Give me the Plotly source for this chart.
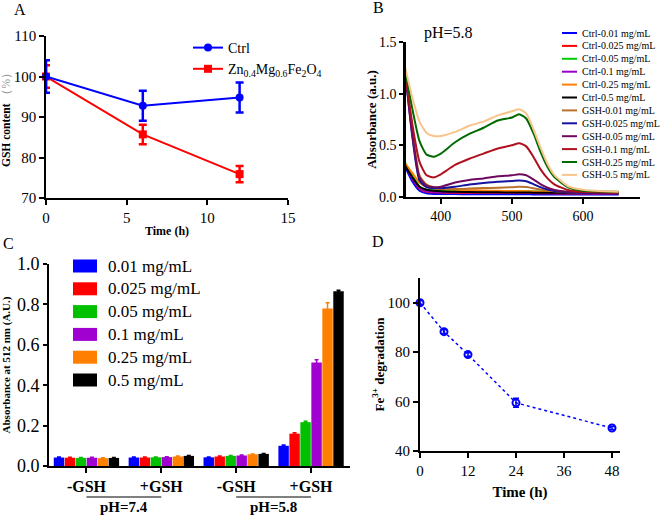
import plotly.graph_objects as go

W, H = 661, 520
FONT = "Times New Roman, Liberation Serif, serif"


def fx(p):
    return p / W


def fy(p):
    return 1 - p / H


# ---------------- Panel A data ----------------
a_time = [0, 6, 12]
a_ctrl = [100, 92.8, 94.8]
a_ctrl_err = [4.0, 3.7, 3.7]
a_zn = [100, 85.7, 75.9]
a_zn_err = [2.8, 2.4, 2.0]
a_names = ["Ctrl", "Zn<sub>0.4</sub>Mg<sub>0.6</sub>Fe<sub>2</sub>O<sub>4</sub>"]

# ---------------- Panel B data ----------------
b_wl = [350, 360, 370, 380, 390, 400, 420, 440, 460, 480, 500, 510, 520, 530, 540, 550, 560, 580, 600, 650]
ctrl_001 = [0.29, 0.15, 0.06, 0.035, 0.03, 0.03, 0.028, 0.027, 0.027, 0.026, 0.026, 0.026, 0.026, 0.025, 0.025, 0.025, 0.025, 0.025, 0.025, 0.025]
ctrl_0025 = [0.31, 0.18, 0.08, 0.05, 0.045, 0.043, 0.04, 0.04, 0.04, 0.04, 0.04, 0.04, 0.04, 0.038, 0.037, 0.036, 0.035, 0.035, 0.035, 0.035]
ctrl_005 = [0.33, 0.21, 0.10, 0.07, 0.065, 0.062, 0.06, 0.058, 0.057, 0.056, 0.055, 0.055, 0.055, 0.054, 0.053, 0.052, 0.05, 0.05, 0.05, 0.048]
ctrl_01 = [0.31, 0.18, 0.09, 0.055, 0.05, 0.048, 0.046, 0.045, 0.045, 0.045, 0.045, 0.045, 0.045, 0.044, 0.043, 0.042, 0.041, 0.04, 0.04, 0.04]
ctrl_025 = [0.32, 0.23, 0.14, 0.095, 0.085, 0.078, 0.07, 0.066, 0.063, 0.06, 0.058, 0.057, 0.056, 0.054, 0.052, 0.05, 0.048, 0.046, 0.045, 0.045]
ctrl_05 = [0.30, 0.19, 0.10, 0.07, 0.06, 0.055, 0.05, 0.048, 0.046, 0.045, 0.044, 0.044, 0.043, 0.042, 0.041, 0.04, 0.04, 0.04, 0.04, 0.04]
gsh_001 = [1.22, 0.66, 0.21, 0.12, 0.095, 0.085, 0.078, 0.082, 0.086, 0.09, 0.095, 0.10, 0.097, 0.085, 0.072, 0.062, 0.055, 0.047, 0.043, 0.04]
gsh_0025 = [1.21, 0.58, 0.16, 0.095, 0.085, 0.085, 0.10, 0.12, 0.135, 0.148, 0.155, 0.16, 0.152, 0.125, 0.095, 0.072, 0.058, 0.045, 0.04, 0.035]
gsh_005 = [1.20, 0.60, 0.19, 0.11, 0.095, 0.10, 0.14, 0.165, 0.18, 0.20, 0.21, 0.22, 0.21, 0.17, 0.125, 0.09, 0.068, 0.05, 0.045, 0.04]
gsh_01 = [1.20, 0.70, 0.34, 0.21, 0.19, 0.22, 0.31, 0.37, 0.42, 0.47, 0.50, 0.52, 0.49, 0.39, 0.27, 0.18, 0.12, 0.065, 0.05, 0.04]
gsh_025 = [1.22, 0.85, 0.54, 0.41, 0.39, 0.42, 0.53, 0.61, 0.67, 0.74, 0.77, 0.80, 0.76, 0.62, 0.44, 0.29, 0.19, 0.09, 0.06, 0.05]
gsh_05 = [1.25, 0.96, 0.73, 0.62, 0.59, 0.59, 0.63, 0.69, 0.73, 0.79, 0.83, 0.85, 0.81, 0.66, 0.48, 0.32, 0.21, 0.10, 0.07, 0.05]
b_names = ["Ctrl-0.01 mg/mL", "Ctrl-0.025 mg/mL", "Ctrl-0.05 mg/mL", "Ctrl-0.1 mg/mL",
           "Ctrl-0.25 mg/mL", "Ctrl-0.5 mg/mL", "GSH-0.01 mg/mL", "GSH-0.025 mg/mL",
           "GSH-0.05 mg/mL", "GSH-0.1 mg/mL", "GSH-0.25 mg/mL", "GSH-0.5 mg/mL"]
b_colors = ["#0000FF", "#FF0000", "#00CC00", "#9900CC", "#FF8000", "#000000",
            "#B8732E", "#1414A0", "#6E0A5E", "#B0101E", "#006A00", "#F8C48A"]
b_series = [ctrl_001, ctrl_0025, ctrl_005, ctrl_01, ctrl_025, ctrl_05,
            gsh_001, gsh_0025, gsh_005, gsh_01, gsh_025, gsh_05]

# ---------------- Panel C data ----------------
c_groups = [0, 1, 2, 3]
c_group_labels = ["-GSH", "+GSH", "-GSH", "+GSH"]
c_ph_labels = ["pH=7.4", "pH=5.8"]
c_conc = ["0.01 mg/mL", "0.025 mg/mL", "0.05 mg/mL", "0.1 mg/mL", "0.25 mg/mL", "0.5 mg/mL"]
c_colors = ["#0000FF", "#FF0000", "#00C000", "#A000D0", "#FF8000", "#000000"]
c_001 = [0.042, 0.042, 0.043, 0.100]
c_0025 = [0.041, 0.042, 0.047, 0.160]
c_005 = [0.040, 0.043, 0.050, 0.217]
c_01 = [0.041, 0.044, 0.052, 0.512]
c_025 = [0.039, 0.047, 0.058, 0.780]
c_05 = [0.040, 0.050, 0.060, 0.865]
c_err = [[0.002, 0.002, 0.002, 0.004], [0.002, 0.002, 0.002, 0.004], [0.002, 0.002, 0.002, 0.004],
         [0.002, 0.002, 0.002, 0.014], [0.002, 0.002, 0.002, 0.028], [0.002, 0.002, 0.002, 0.005]]
c_values = [c_001, c_0025, c_005, c_01, c_025, c_05]

# ---------------- Panel D data ----------------
d_time = [0, 6, 12, 24, 48]
d_val = [100, 88.3, 79.0, 59.5, 49.3]
d_err = [0.8, 0.8, 0.8, 1.8, 0.6]

fig = go.Figure()

# Panel A traces
fig.add_trace(go.Scatter(x=a_time, y=a_zn, name=a_names[1], mode="lines+markers",
                         line=dict(color="#FF0000", width=2),
                         marker=dict(symbol="square", size=8, color="#FF0000"),
                         error_y=dict(type="data", array=a_zn_err, color="#FF0000", thickness=2.5, width=4),
                         xaxis="x", yaxis="y", legend="legend", legendrank=2, cliponaxis=False))
fig.add_trace(go.Scatter(x=a_time, y=a_ctrl, name=a_names[0], mode="lines+markers",
                         line=dict(color="#0000FF", width=2),
                         marker=dict(symbol="circle", size=8, color="#0000FF"),
                         error_y=dict(type="data", array=a_ctrl_err, color="#0000FF", thickness=2.5, width=4),
                         xaxis="x", yaxis="y", legend="legend", legendrank=1, cliponaxis=False))

# Panel B traces
for name, col, ys in zip(b_names, b_colors, b_series):
    fig.add_trace(go.Scatter(x=b_wl, y=ys, name=name, mode="lines",
                             line=dict(color=col, width=2, shape="spline", smoothing=0.6),
                             xaxis="x2", yaxis="y2", showlegend=False))

# Panel C traces
for name, col, ys, er in zip(c_conc, c_colors, c_values, c_err):
    fig.add_trace(go.Bar(x=c_groups, y=ys, name=name, marker=dict(color=col, line=dict(width=0)),
                         error_y=dict(type="data", array=er, color=col, thickness=1.5, width=2),
                         xaxis="x3", yaxis="y3", showlegend=False))

# Panel D trace
fig.add_trace(go.Scatter(x=d_time, y=d_val, mode="lines+markers", name="Fe3+",
                         line=dict(color="#0000FF", width=1.5, dash="dot"),
                         marker=dict(symbol="circle-open", size=7, color="#0000FF", line=dict(width=2)),
                         error_y=dict(type="data", array=d_err, color="#0000FF", thickness=1.5, width=3),
                         xaxis="x4", yaxis="y4", showlegend=False, cliponaxis=False))

axis_common = dict(showline=True, linecolor="black", ticks="outside", tickcolor="black",
                   showgrid=False, zeroline=False, mirror=False, automargin=False)


def title_font(s):
    return dict(family=FONT, size=s, color="black", weight="bold")


def tick_font(s):
    return dict(family=FONT, size=s, color="black")


fig.update_layout(
    width=W, height=H, margin=dict(l=0, r=0, t=0, b=0, pad=0, autoexpand=False),
    paper_bgcolor="white", plot_bgcolor="white",
    font=dict(family=FONT, color="black"),
    barmode="group", bargap=0.12, bargroupgap=0.05,
    # Panel A
    xaxis=dict(axis_common, domain=[fx(46), fx(288)], range=[0, 15], tickvals=[0, 5, 10, 15],
               linewidth=1.5, tickwidth=1.5, ticklen=5, tickfont=tick_font(15),
               title=dict(text="Time (h)", font=title_font(12), standoff=2), anchor="y"),
    yaxis=dict(axis_common, domain=[fy(198), fy(36)], range=[70, 110], tickvals=[70, 80, 90, 100, 110],
               linewidth=1.5, tickwidth=1.5, ticklen=5, tickfont=tick_font(15),
               title=dict(text="GSH content <span style='font-weight:normal;color:#999999'>（%）</span>",
                          font=title_font(11.5), standoff=6), anchor="x"),
    # Panel B
    xaxis2=dict(axis_common, domain=[fx(406), fx(640)], range=[351, 680], tickvals=[400, 500, 600],
                linewidth=2, tickwidth=1.5, ticklen=5, tickfont=tick_font(14), anchor="y2"),
    yaxis2=dict(axis_common, domain=[fy(197), fy(42)], range=[0, 1.5], tickvals=[0, 0.5, 1.0, 1.5],
                tickformat=".1f", linewidth=2.5, tickwidth=1.5, ticklen=4, tickfont=tick_font(14),
                title=dict(text="Absorbance (a.u.)", font=title_font(13), standoff=0), anchor="x2"),
    # Panel C
    xaxis3=dict(axis_common, domain=[fx(49), fx(350)], range=[-0.5, 3.52], tickvals=c_groups,
                ticktext=["<b>%s</b>" % t for t in c_group_labels],
                linewidth=2, tickwidth=1.5, ticklen=5, tickfont=tick_font(16), anchor="y3"),
    yaxis3=dict(axis_common, domain=[fy(466), fy(264)], range=[0, 1.0], dtick=0.2, tickformat=".1f",
                linewidth=2, tickwidth=1.5, ticklen=4, tickfont=tick_font(18),
                title=dict(text="Absorbance at 512 nm (A.U.)", font=title_font(11), standoff=5), anchor="x3"),
    # Panel D
    xaxis4=dict(axis_common, domain=[fx(420), fx(620)], range=[0, 50], tickvals=[0, 12, 24, 36, 48],
                linewidth=2, tickwidth=1.5, ticklen=5, tickfont=tick_font(15),
                title=dict(text="Time (h)", font=title_font(15), standoff=8), anchor="y4"),
    yaxis4=dict(axis_common, domain=[fy(451), fy(278)], range=[40, 110], tickvals=[40, 60, 80, 100],
                linewidth=2, tickwidth=1.5, ticklen=5, tickfont=tick_font(15),
                title=dict(text="Fe<sup>3+</sup> degradation", font=title_font(13), standoff=0), anchor="x4"),
    legend=dict(x=fx(188), y=fy(32), xanchor="left", yanchor="top", bgcolor="rgba(0,0,0,0)",
                font=dict(family=FONT, size=14), tracegroupgap=0),
)

annotations = []
shapes = []

# Panel letters
for letter, x, y in [("A", 20, 9), ("B", 378, 8), ("C", 8, 243), ("D", 378, 241)]:
    annotations.append(dict(text=letter, x=fx(x), y=fy(y), xref="paper", yref="paper",
                            showarrow=False, font=dict(family=FONT, size=16), xanchor="center", yanchor="middle"))

# Panel B title and legend
annotations.append(dict(text="pH=5.8", x=fx(422), y=fy(33), xref="paper", yref="paper", showarrow=False,
                        xanchor="left", yanchor="middle", font=dict(family=FONT, size=16)))
for i, (name, col) in enumerate(zip(b_names, b_colors)):
    yy = 33 + 12.9 * i
    shapes.append(dict(type="line", xref="paper", yref="paper", x0=fx(562), x1=fx(577),
                       y0=fy(yy), y1=fy(yy), line=dict(color=col, width=2)))
    annotations.append(dict(text=name, x=fx(580), y=fy(yy), xref="paper", yref="paper", showarrow=False,
                            xanchor="left", yanchor="middle", font=dict(family=FONT, size=10)))

# Panel C legend
for i, (name, col) in enumerate(zip(c_conc, c_colors)):
    yy = 266 + 22.8 * i
    shapes.append(dict(type="rect", xref="paper", yref="paper", x0=fx(73), x1=fx(97),
                       y0=fy(yy + 6.5), y1=fy(yy - 6.5), fillcolor=col, line=dict(width=0)))
    annotations.append(dict(text=name, x=fx(106), y=fy(yy), xref="paper", yref="paper", showarrow=False,
                            xanchor="left", yanchor="middle", font=dict(family=FONT, size=17)))

# Panel C pH group lines and labels
for (g0, g1), lab in zip([(0, 1), (2, 3)], c_ph_labels):
    shapes.append(dict(type="line", xref="x3", yref="paper", x0=g0, x1=g1, y0=fy(497), y1=fy(497),
                       line=dict(color="black", width=1)))
    annotations.append(dict(text="<b>%s</b>" % lab, x=(g0 + g1) / 2, y=fy(507), xref="x3", yref="paper",
                            showarrow=False, xanchor="center", yanchor="middle", font=dict(family=FONT, size=15)))

fig.update_layout(annotations=annotations, shapes=shapes)

fig.write_html("out.html", config={"displayModeBar": False},
               post_script="document.body.style.margin='0';document.body.style.padding='0';")
